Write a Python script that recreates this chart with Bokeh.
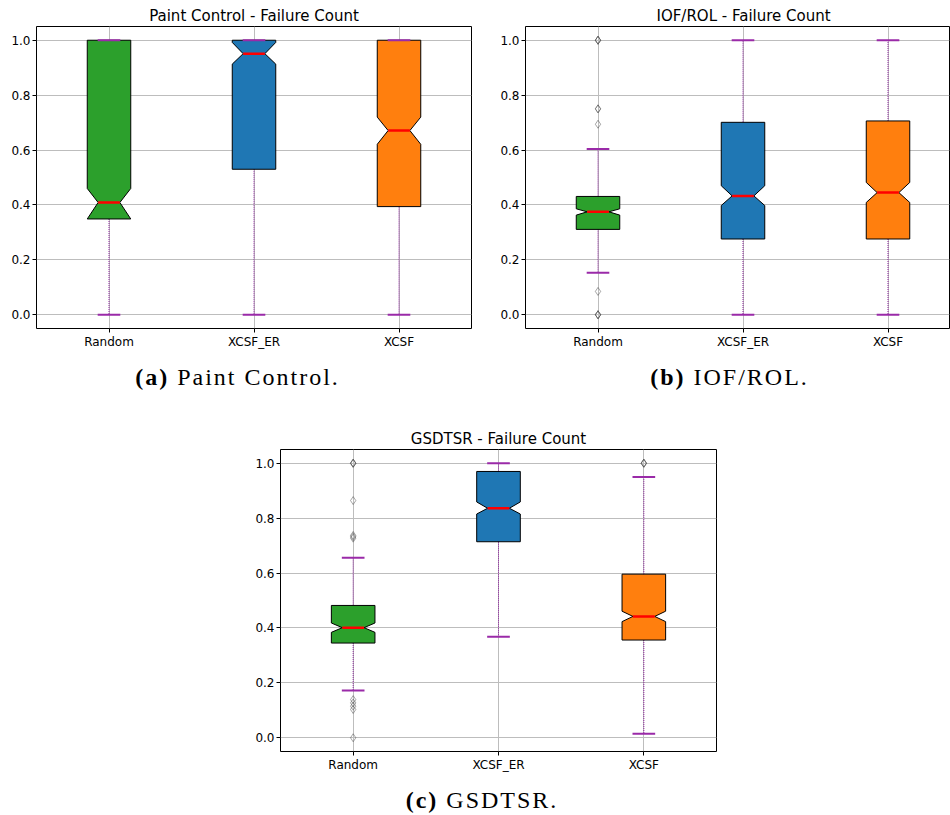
from bokeh.plotting import figure
from bokeh.models import Range1d, FixedTicker, PrintfTickFormatter, Div, Spacer
from bokeh.layouts import row, column
from bokeh.embed import file_html
from bokeh.resources import INLINE

# ---------------- data ----------------
categories = ["Random", "XCSF_ER", "XCSF"]
box_colors = ["#2ca02c", "#1f77b4", "#ff7f0e"]

# Paint Control
paint_q1 = [0.349, 0.530, 0.394]
paint_med = [0.409, 0.951, 0.671]
paint_q3 = [1.0, 1.0, 1.0]
paint_notch_lo = [0.349, 0.913, 0.621]
paint_notch_hi = [0.460, 0.992, 0.720]
paint_whis_lo = [0.0, 0.0, 0.0]
paint_whis_hi = [1.0, 1.0, 1.0]
paint_outliers = {0: [], 1: [], 2: []}

# IOF/ROL
iof_q1 = [0.311, 0.276, 0.276]
iof_med = [0.375, 0.433, 0.445]
iof_q3 = [0.431, 0.701, 0.706]
iof_notch_lo = [0.363, 0.398, 0.409]
iof_notch_hi = [0.386, 0.470, 0.482]
iof_whis_lo = [0.153, 0.0, 0.0]
iof_whis_hi = [0.604, 1.0, 1.0]
iof_outliers = {0: [1.0, 1.0, 1.0, 0.75, 0.75, 0.694, 0.085, 0.0, 0.0, 0.0], 1: [], 2: []}

# GSDTSR
gs_q1 = [0.345, 0.714, 0.356]
gs_med = [0.401, 0.836, 0.442]
gs_q3 = [0.482, 0.970, 0.596]
gs_notch_lo = [0.384, 0.815, 0.423]
gs_notch_hi = [0.418, 0.859, 0.461]
gs_whis_lo = [0.172, 0.368, 0.0145]
gs_whis_hi = [0.656, 1.0, 0.950]
gs_outliers = {0: [1.0, 1.0, 1.0, 0.864, 0.737, 0.732, 0.727, 0.139, 0.127, 0.115, 0.103, 0.0],
               1: [],
               2: [1.0, 1.0, 1.0]}

y_ticks = [0.0, 0.2, 0.4, 0.6, 0.8, 1.0]

# ---------------- style ----------------
HALF_BOX = 0.15
HALF_NOTCH = 0.075
HALF_CAP = 0.078
WHISKER_COLOR = "#8a1a9c"
CAP_COLOR = "#9a2aa8"
GRID_COLOR = "#bdbdbd"
TICK_FONT = "DejaVu Sans"


def make_panel(title, q1, med, q3, nlo, nhi, wlo, whi, outliers,
               width, height, b_left, b_right, b_top, b_bottom, x_end,
               title_align="center", title_offset=0):
    p = figure(width=width, height=height,
               x_range=Range1d(0.5, x_end), y_range=Range1d(-0.05, 1.05),
               output_backend="svg", toolbar_location=None,
               min_border_left=b_left, min_border_right=b_right,
               min_border_top=b_top, min_border_bottom=b_bottom)
    p.title.text = title
    p.title.align = title_align
    p.title.offset = title_offset
    p.title.text_font = TICK_FONT
    p.title.text_font_size = "15px"
    p.title.text_font_style = "normal"
    p.title.text_color = "#000000"
    p.title.standoff = 4

    p.outline_line_color = "#000000"
    p.outline_line_width = 1
    p.outline_line_alpha = 1.0
    p.background_fill_color = "white"
    p.border_fill_color = "white"

    xs_pos = [i + 1 for i in range(len(categories))]
    p.xaxis.ticker = FixedTicker(ticks=xs_pos)
    p.xaxis.major_label_overrides = {i + 1: c for i, c in enumerate(categories)}
    p.yaxis.ticker = FixedTicker(ticks=y_ticks)
    p.yaxis.formatter = PrintfTickFormatter(format="%.1f")
    for ax in (p.xaxis, p.yaxis):
        ax.axis_line_color = None
        ax.major_tick_out = 4
        ax.major_tick_in = 0
        ax.minor_tick_out = 0
        ax.minor_tick_in = 0
        ax.major_tick_line_color = "#000000"
        ax.major_label_text_font = TICK_FONT
        ax.major_label_text_font_size = "12px"
        ax.major_label_text_color = "#000000"
        ax.major_label_standoff = 2

    p.xgrid.grid_line_color = GRID_COLOR
    p.ygrid.grid_line_color = GRID_COLOR
    p.xgrid.grid_line_width = 1
    p.ygrid.grid_line_width = 1

    # whiskers (dotted)
    p.segment(x0=xs_pos + xs_pos, y0=list(q1) + list(q3),
              x1=xs_pos + xs_pos, y1=list(wlo) + list(whi),
              line_color=WHISKER_COLOR, line_width=1, line_dash="1 1")

    # notched boxes
    box_xs, box_ys = [], []
    for i, x in enumerate(xs_pos):
        l, r = x - HALF_BOX, x + HALF_BOX
        nl, nr = x - HALF_NOTCH, x + HALF_NOTCH
        box_xs.append([l, r, r, nr, r, r, l, l, nl, l])
        box_ys.append([q1[i], q1[i], nlo[i], med[i], nhi[i], q3[i], q3[i], nhi[i], med[i], nlo[i]])
    p.patches(box_xs, box_ys, fill_color=box_colors, line_color="#000000", line_width=1)

    # medians
    p.segment(x0=[x - HALF_NOTCH for x in xs_pos], y0=med,
              x1=[x + HALF_NOTCH for x in xs_pos], y1=med,
              line_color="#ff0000", line_width=2.5)

    # caps
    cap_y = list(wlo) + list(whi)
    cap_x = xs_pos + xs_pos
    p.segment(x0=[x - HALF_CAP for x in cap_x], y0=cap_y,
              x1=[x + HALF_CAP for x in cap_x], y1=cap_y,
              line_color=CAP_COLOR, line_width=2)

    # outliers
    ox, oy = [], []
    for i, vals in outliers.items():
        for v in vals:
            ox.append(xs_pos[i])
            oy.append(v)
    if ox:
        p.scatter(ox, oy, marker="diamond", size=8, fill_color=None,
                  line_color="#4d4d4d", line_alpha=0.5, line_width=1)
    return p


def caption(label, text, width, height, pad_left, pad_top):
    html = ("<div style=\"box-sizing:border-box; text-align:center; font-family:'Liberation Serif'; "
            "font-size:24px; letter-spacing:2px; line-height:26px; color:#000; white-space:nowrap; "
            f"width:{width}px; padding-left:{pad_left}px; padding-top:{pad_top}px;\">"
            f"<b>{label}</b> {text}</div>")
    return Div(text=html, width=width, height=height, margin=(0, 0, 0, 0))


pa = make_panel("Paint Control - Failure Count", paint_q1, paint_med, paint_q3,
                paint_notch_lo, paint_notch_hi, paint_whis_lo, paint_whis_hi, paint_outliers,
                width=475, height=352, b_left=36, b_right=4, b_top=26, b_bottom=24, x_end=3.5)
pb = make_panel("IOF/ROL - Failure Count", iof_q1, iof_med, iof_q3,
                iof_notch_lo, iof_notch_hi, iof_whis_lo, iof_whis_hi, iof_outliers,
                width=475, height=352, b_left=50, b_right=1, b_top=26, b_bottom=24,
                x_end=0.5 + 424 / 145.0, title_align="left", title_offset=131)
pc = make_panel("GSDTSR - Failure Count", gs_q1, gs_med, gs_q3,
                gs_notch_lo, gs_notch_hi, gs_whis_lo, gs_whis_hi, gs_outliers,
                width=476, height=375, b_left=36, b_right=4, b_top=49, b_bottom=24, x_end=3.5)

cap_a = caption("(a)", "Paint Control.", 475, 48, 0, 12)
cap_b = caption("(b)", "IOF/ROL.", 475, 48, 34, 12)
cap_c = caption("(c)", "GSDTSR.", 476, 38, 0, 12)

layout = column(
    row(column(pa, cap_a), column(pb, cap_b)),
    row(Spacer(width=244, height=10, margin=(0, 0, 0, 0)), column(pc, cap_c)),
)

open("out.html", "w").write(file_html(layout, INLINE))
